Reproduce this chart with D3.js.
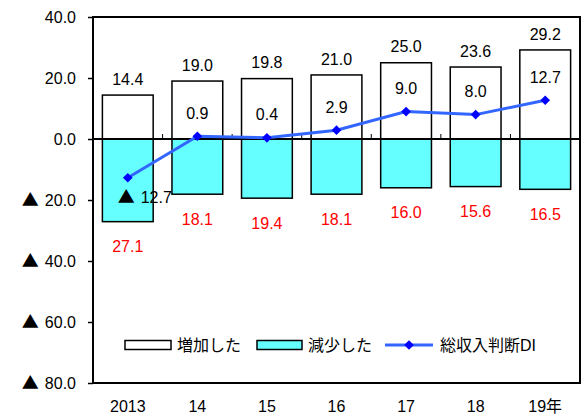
<!DOCTYPE html>
<html>
<head>
<meta charset="utf-8">
<script src="https://cdn.jsdelivr.net/npm/d3@7"></script>
<style>
  body { margin: 0; background: #fff; }
  svg text { font-family: "Liberation Sans", Arial, "Noto Sans CJK JP", sans-serif; }
</style>
</head>
<body>
<svg id="chart" width="581" height="419"></svg>
<script>
const years = ['2013', '14', '15', '16', '17', '18', '19年']
const increased = [14.4, 19.0, 19.8, 21.0, 25.0, 23.6, 29.2]
const decreased = [27.1, 18.1, 19.4, 18.1, 16.0, 15.6, 16.5]
const di = [-12.7, 0.9, 0.4, 2.9, 9.0, 8.0, 12.7]
const yTicks = [40, 20, 0, -20, -40, -60, -80]
const legendLabels = ['増加した', '減少した', '総収入判断DI']

const cjk = '"Noto Sans CJK JP", sans-serif'

// negative values are written with a big ▲ instead of a minus sign
function setValue (sel, v) {
  sel.text(null)
  if (v < 0) {
    sel.append('tspan').attr('font-family', cjk).attr('font-size', 17).text('▲')
    sel.append('tspan').attr('dx', 6).text(Math.abs(v).toFixed(1))
  } else {
    sel.append('tspan').text(v.toFixed(1))
  }
}

const svg = d3.select('#chart')
const margin = { top: 17, right: 1, bottom: 36, left: 93 }
const W = 581, H = 419
const x = d3.scaleBand().domain(years).range([margin.left, W - margin.right]).paddingInner(0.27).paddingOuter(0.135)
const xb = d3.scaleBand().domain(years).range([margin.left, W - margin.right])
const y = d3.scaleLinear().domain([-80, 40]).range([H - margin.bottom, margin.top])

// bars: increase (white), decrease (cyan)
svg.append('g').selectAll('rect').data(increased).join('rect')
  .attr('x', (d, i) => x(years[i])).attr('width', x.bandwidth())
  .attr('y', d => y(d)).attr('height', d => y(0) - y(d))
  .attr('fill', '#fff').attr('stroke', '#000').attr('stroke-width', 1.5)

svg.append('g').selectAll('rect').data(decreased).join('rect')
  .attr('x', (d, i) => x(years[i])).attr('width', x.bandwidth())
  .attr('y', y(0)).attr('height', d => y(-d) - y(0))
  .attr('fill', '#66ffff').attr('stroke', '#000').attr('stroke-width', 1.5)

// frame + zero line
svg.append('rect')
  .attr('x', margin.left).attr('y', margin.top)
  .attr('width', W - margin.right - margin.left).attr('height', y(-80) - margin.top)
  .attr('fill', 'none').attr('stroke', '#000').attr('stroke-width', 2)
svg.append('line')
  .attr('x1', margin.left).attr('x2', W - margin.right)
  .attr('y1', y(0)).attr('y2', y(0)).attr('stroke', '#000').attr('stroke-width', 2)

// small ticks on zero line between categories
svg.append('g').selectAll('line').data(years.slice(1)).join('line')
  .attr('x1', d => xb(d)).attr('x2', d => xb(d))
  .attr('y1', y(0)).attr('y2', y(0) - 5)
  .attr('stroke', '#000').attr('stroke-width', 1)

// y axis
const yAxis = svg.append('g')
  .attr('transform', `translate(${margin.left},0)`)
  .call(d3.axisLeft(y).tickValues(yTicks).tickSize(5).tickPadding(12))
yAxis.select('.domain').remove()
yAxis.selectAll('line').attr('stroke', '#000').attr('stroke-width', 1.5)
yAxis.selectAll('text').attr('font-size', 16).attr('fill', '#000')
  .attr('font-family', '"Liberation Sans", Arial, sans-serif')
  .each(function (d) { setValue(d3.select(this), d) })

// x axis labels
const xAxis = svg.append('g')
  .attr('transform', `translate(0,${y(-80)})`)
  .call(d3.axisBottom(xb).tickSize(0).tickPadding(18))
xAxis.select('.domain').remove()
xAxis.selectAll('text').attr('font-size', 16).attr('fill', '#000')
  .attr('font-family', '"Liberation Sans", Arial, "Noto Sans CJK JP", sans-serif')

// DI line
const cx = (d, i) => xb(years[i]) + xb.bandwidth() / 2
svg.append('path').datum(di)
  .attr('d', d3.line().x(cx).y(d => y(d)))
  .attr('fill', 'none').attr('stroke', '#3366ff').attr('stroke-width', 3)
svg.append('g').selectAll('path').data(di).join('path')
  .attr('d', d3.symbol(d3.symbolDiamond2, 60))
  .attr('transform', (d, i) => `translate(${cx(d, i)},${y(d)})`)
  .attr('fill', '#0000ff')

// labels
const lab = svg.append('g').attr('font-size', 16).attr('text-anchor', 'middle')
lab.selectAll('.inc').data(increased).join('text')
  .attr('x', cx).attr('y', d => y(d) - 16).attr('dy', '0.35em')
  .text(d => d.toFixed(1))
lab.selectAll('.dec').data(decreased).join('text')
  .attr('x', cx).attr('y', d => y(-d) + 25).attr('dy', '0.35em')
  .attr('fill', '#ff0000')
  .text(d => d.toFixed(1))
lab.selectAll('.di').data(di).join('text')
  .attr('x', (d, i) => d < 0 ? cx(d, i) + 17 : cx(d, i))
  .attr('y', d => d < 0 ? y(d) + 20 : y(d) - 23).attr('dy', '0.35em')
  .each(function (d) { setValue(d3.select(this), d) })

// legend
const lg = svg.append('g').attr('transform', `translate(0,${345})`)
  .attr('font-size', 16).attr('font-family', cjk)
lg.append('rect').attr('x', 125).attr('y', -4.5).attr('width', 46).attr('height', 9)
  .attr('fill', '#fff').attr('stroke', '#000').attr('stroke-width', 1.5)
lg.append('text').attr('x', 177).attr('dy', '0.35em').text(legendLabels[0])
lg.append('rect').attr('x', 257).attr('y', -4.5).attr('width', 45).attr('height', 9)
  .attr('fill', '#66ffff').attr('stroke', '#000').attr('stroke-width', 1.5)
lg.append('text').attr('x', 308).attr('dy', '0.35em').text(legendLabels[1])
lg.append('line').attr('x1', 385).attr('x2', 433).attr('stroke', '#3366ff').attr('stroke-width', 3)
lg.append('path').attr('d', d3.symbol(d3.symbolDiamond2, 60)).attr('transform', 'translate(409,0)').attr('fill', '#0000ff')
lg.append('text').attr('x', 440).attr('dy', '0.35em').text(legendLabels[2])
</script>
</body>
</html>
